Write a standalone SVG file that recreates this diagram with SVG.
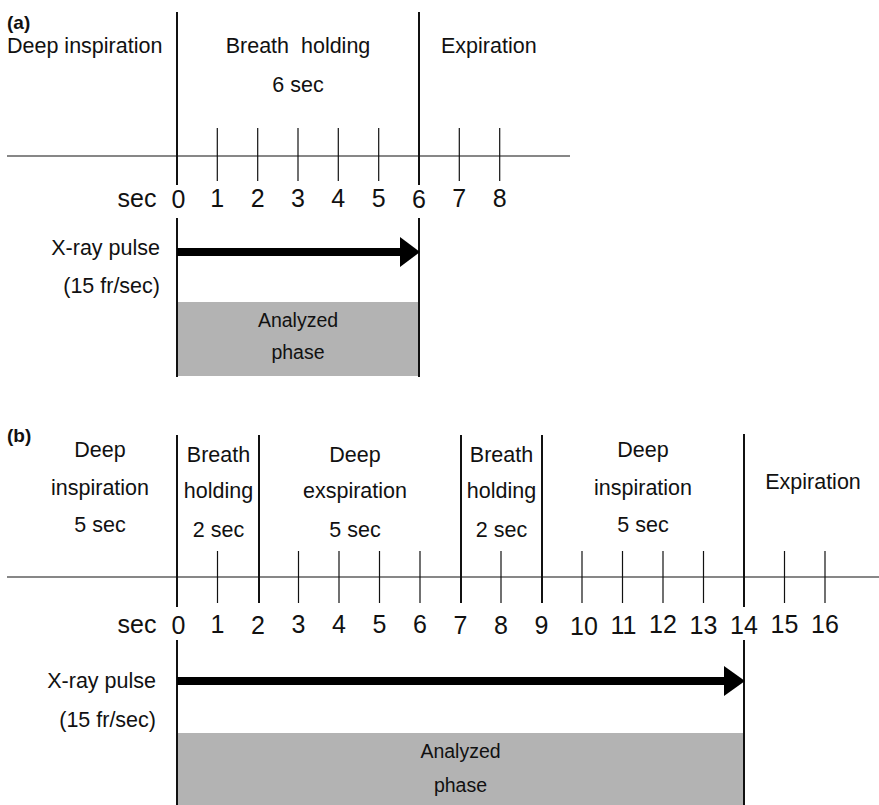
<svg xmlns="http://www.w3.org/2000/svg" width="879" height="805" viewBox="0 0 879 805">
<style>
text{font-family:"Liberation Sans",Arial,Helvetica,sans-serif;fill:#111}
.lb{font-size:21.5px}
.tk{font-size:25px;text-anchor:middle}
.an{font-size:19.5px;text-anchor:middle}
.c{text-anchor:middle}
.r{text-anchor:end}
.hd{font-size:19px;font-weight:bold}
.ax{stroke:#111;stroke-width:1.2;fill:none}
.tick{stroke:#111;stroke-width:1.2;fill:none}
.bd{stroke:#111;stroke-width:2;fill:none}
.gray{fill:#b3b3b3}
.arr{stroke:#000;stroke-width:8;fill:none}
.head{fill:#000}
</style>
<rect width="879" height="805" fill="#fff"/>

<g id="panel-a">
  <text class="hd" x="7" y="29">(a)</text>
  <rect id="a-analyzed" class="gray" x="177" y="302" width="242" height="74"/>
  <g id="a-axis">
    <line class="ax" x1="7" y1="156" x2="570" y2="156"/>
    <g class="tick">
      <line x1="217.3" y1="128" x2="217.3" y2="181"/>
      <line x1="257.7" y1="128" x2="257.7" y2="181"/>
      <line x1="298" y1="128" x2="298" y2="181"/>
      <line x1="338.3" y1="128" x2="338.3" y2="181"/>
      <line x1="378.7" y1="128" x2="378.7" y2="181"/>
      <line x1="459.3" y1="128" x2="459.3" y2="181"/>
      <line x1="499.7" y1="128" x2="499.7" y2="181"/>
    </g>
    <g class="bd">
      <line x1="177" y1="12" x2="177" y2="185"/>
      <line x1="177" y1="218" x2="177" y2="377"/>
      <line x1="419" y1="12" x2="419" y2="185"/>
      <line x1="419" y1="218" x2="419" y2="377"/>
    </g>
    <text class="tk" x="137" y="207">sec</text>
    <text class="tk" x="178.5" y="208">0</text>
    <text class="tk" x="217.3" y="207">1</text>
    <text class="tk" x="257.7" y="207">2</text>
    <text class="tk" x="298" y="207">3</text>
    <text class="tk" x="338.3" y="207">4</text>
    <text class="tk" x="378.7" y="207">5</text>
    <text class="tk" x="419" y="208">6</text>
    <text class="tk" x="459.3" y="207">7</text>
    <text class="tk" x="499.7" y="207">8</text>
  </g>
  <g id="a-phases">
    <text class="lb" x="7" y="53">Deep inspiration</text>
    <text class="lb c" x="298" y="53" xml:space="preserve">Breath  holding</text>
    <text class="lb c" x="298" y="92">6 sec</text>
    <text class="lb" x="441" y="53">Expiration</text>
  </g>
  <g id="a-pulse">
    <text class="lb r" x="160" y="255">X-ray pulse</text>
    <text class="lb r" x="160" y="293">(15 fr/sec)</text>
    <line class="arr" x1="177" y1="252" x2="402" y2="252"/>
    <polygon class="head" points="400,237 420,252 400,267"/>
  </g>
  <g id="a-analyzed-label">
    <text class="an" x="298" y="327">Analyzed</text>
    <text class="an" x="298" y="359">phase</text>
  </g>
</g>

<g id="panel-b">
  <text class="hd" x="7" y="442">(b)</text>
  <rect id="b-analyzed" class="gray" x="177" y="733" width="567" height="72"/>
  <g id="b-axis">
    <line class="ax" x1="7" y1="577" x2="879" y2="577"/>
    <g class="tick">
      <line x1="217.5" y1="551" x2="217.5" y2="603"/>
      <line x1="298.5" y1="551" x2="298.5" y2="603"/>
      <line x1="339" y1="551" x2="339" y2="603"/>
      <line x1="379.5" y1="551" x2="379.5" y2="603"/>
      <line x1="420" y1="551" x2="420" y2="603"/>
      <line x1="501" y1="551" x2="501" y2="603"/>
      <line x1="582" y1="551" x2="582" y2="603"/>
      <line x1="622.5" y1="551" x2="622.5" y2="603"/>
      <line x1="663" y1="551" x2="663" y2="603"/>
      <line x1="703.5" y1="551" x2="703.5" y2="603"/>
      <line x1="784.5" y1="551" x2="784.5" y2="603"/>
      <line x1="825" y1="551" x2="825" y2="603"/>
    </g>
    <g class="bd">
      <line x1="177" y1="435" x2="177" y2="607"/>
      <line x1="177" y1="640" x2="177" y2="805"/>
      <line x1="259" y1="435" x2="259" y2="603"/>
      <line x1="461" y1="435" x2="461" y2="603"/>
      <line x1="542" y1="435" x2="542" y2="603"/>
      <line x1="744" y1="434" x2="744" y2="607"/>
      <line x1="744" y1="640" x2="744" y2="805"/>
    </g>
    <text class="tk" x="137" y="633">sec</text>
    <text class="tk" x="178.5" y="634">0</text>
    <text class="tk" x="217.5" y="633">1</text>
    <text class="tk" x="258" y="634">2</text>
    <text class="tk" x="298.5" y="633">3</text>
    <text class="tk" x="339" y="633">4</text>
    <text class="tk" x="379.5" y="633">5</text>
    <text class="tk" x="420" y="633">6</text>
    <text class="tk" x="460.5" y="634">7</text>
    <text class="tk" x="501" y="634">8</text>
    <text class="tk" x="541.5" y="634">9</text>
    <text class="tk" x="584" y="635">10</text>
    <text class="tk" x="623.5" y="634">11</text>
    <text class="tk" x="663" y="633">12</text>
    <text class="tk" x="703.5" y="634">13</text>
    <text class="tk" x="744" y="634">14</text>
    <text class="tk" x="784.5" y="633">15</text>
    <text class="tk" x="825" y="633">16</text>
  </g>
  <g id="b-phases">
    <g id="b-phase1">
      <text class="lb c" x="100" y="457">Deep</text>
      <text class="lb c" x="100" y="495">inspiration</text>
      <text class="lb c" x="100" y="532">5 sec</text>
    </g>
    <g id="b-phase2">
      <text class="lb c" x="218.5" y="462">Breath</text>
      <text class="lb c" x="218.5" y="498">holding</text>
      <text class="lb c" x="218.5" y="537">2 sec</text>
    </g>
    <g id="b-phase3">
      <text class="lb c" x="355" y="462">Deep</text>
      <text class="lb c" x="355" y="498">exspiration</text>
      <text class="lb c" x="355" y="537">5 sec</text>
    </g>
    <g id="b-phase4">
      <text class="lb c" x="501.5" y="462">Breath</text>
      <text class="lb c" x="501.5" y="498">holding</text>
      <text class="lb c" x="501.5" y="537">2 sec</text>
    </g>
    <g id="b-phase5">
      <text class="lb c" x="643" y="457">Deep</text>
      <text class="lb c" x="643" y="495">inspiration</text>
      <text class="lb c" x="643" y="532">5 sec</text>
    </g>
    <g id="b-phase6">
      <text class="lb c" x="813" y="489">Expiration</text>
    </g>
  </g>
  <g id="b-pulse">
    <text class="lb r" x="156" y="688">X-ray pulse</text>
    <text class="lb r" x="156" y="727">(15 fr/sec)</text>
    <line class="arr" x1="177" y1="681" x2="726" y2="681"/>
    <polygon class="head" points="724,666 745,681 724,696"/>
  </g>
  <g id="b-analyzed-label">
    <text class="an" x="460.5" y="758">Analyzed</text>
    <text class="an" x="460.5" y="792">phase</text>
  </g>
</g>
</svg>
